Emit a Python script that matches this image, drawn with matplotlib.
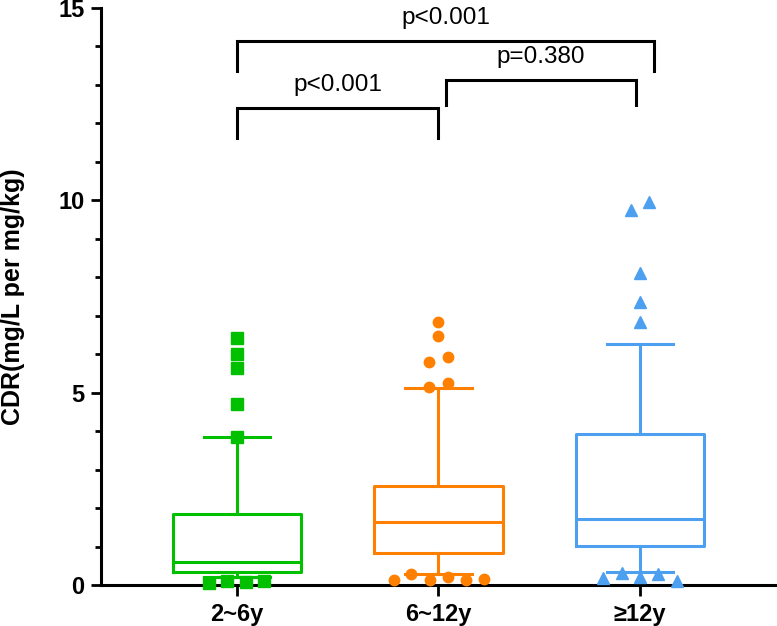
import matplotlib.pyplot as plt

plt.rcParams['font.family'] = ['Liberation Sans', 'DejaVu Sans']

# groups
groups = ['2~6y', '6~12y', '≥12y']
colors = ['#00c000', '#ff8000', '#4d9ff0']
markers = ['s', 'o', '^']

# box statistics
q1 = [0.33, 0.82, 1.01]
med = [0.59, 1.65, 1.71]
q3 = [1.84, 2.58, 3.92]
whis_lo = [0.22, 0.28, 0.35]
whis_hi = [3.84, 5.12, 6.26]

# outliers per group
out_y = [
    [6.41, 6.00, 5.63, 4.70, 3.86, 0.06, 0.10, 0.08, 0.10],
    [6.85, 6.47, 5.93, 5.80, 5.26, 5.15, 0.13, 0.28, 0.13, 0.22, 0.12, 0.16],
    [9.96, 9.75, 8.10, 7.36, 6.84, 0.18, 0.30, 0.20, 0.28, 0.10],
]
# horizontal spread of the outliers (layout only)
out_dx = [
    [0, 0, 0, 0, 0, -0.139, -0.05, 0.045, 0.134],
    [0, 0, 0.045, -0.045, 0.045, -0.045, -0.223, -0.136, -0.044, 0.045, 0.138, 0.228],
    [0.045, -0.045, 0, 0, 0, -0.184, -0.089, 0, 0.089, 0.184],
]

# comparisons: (x1, x2, bar height, leg bottom, text)
comparisons = [
    (1.0, 2.0, 12.41, 11.63, 'p<0.001'),
    (2.035, 2.98, 13.14, 12.49, 'p=0.380'),
    (1.0, 3.07, 14.15, 13.36, 'p<0.001'),
]

fig = plt.figure(figsize=(7.77, 6.26), dpi=100)
ax = fig.add_axes([101 / 777, 41 / 626, 676 / 777, 577 / 626])

pos = [1, 2, 3]
for i in range(3):
    st = [dict(q1=q1[i], med=med[i], q3=q3[i], whislo=whis_lo[i], whishi=whis_hi[i], fliers=[])]
    lp = dict(color=colors[i], linewidth=2.2)
    ax.bxp(st, positions=[pos[i]], widths=0.64, showfliers=False, boxprops=lp,
           medianprops=lp, whiskerprops=lp, capprops=lp, capwidths=0.33)
    xs = [pos[i] + d for d in out_dx[i]]
    ax.plot(xs, out_y[i], linestyle='none', marker=markers[i], color=colors[i],
            markersize=8 if markers[i] != 'o' else 7.5, clip_on=False, zorder=3)

for x1, x2, yb, yl, txt in comparisons:
    ax.plot([x1, x1, x2, x2], [yl, yb, yb, yl], color='black', linewidth=2.2,
            solid_joinstyle='miter', clip_on=False)
    ax.text((x1 + x2) / 2, yb + 0.3, txt, ha='center', va='bottom', fontsize=17.5)

ax.set_xlim(0.325, 3.68)
ax.set_ylim(0, 15)
ax.set_xticks(pos)
ax.set_xticklabels(groups, fontsize=17, fontweight='bold')
ax.set_yticks([0, 5, 10, 15])
ax.set_yticks(range(0, 16), minor=True)
ax.tick_params(axis='y', labelsize=17, width=2, length=7, pad=5)
ax.tick_params(axis='y', which='minor', width=2, length=4.3)
ax.tick_params(axis='x', width=2, length=8, pad=5)
for lab in ax.get_yticklabels():
    lab.set_fontweight('bold')
for s in ['top', 'right']:
    ax.spines[s].set_visible(False)
for s in ['left', 'bottom']:
    ax.spines[s].set_linewidth(2.2)
ax.set_ylabel('CDR(mg/L per mg/kg)', fontsize=18, fontweight='bold')
ax.yaxis.set_label_coords(-0.112, 0.5)

fig.savefig('out.png', dpi=100)
